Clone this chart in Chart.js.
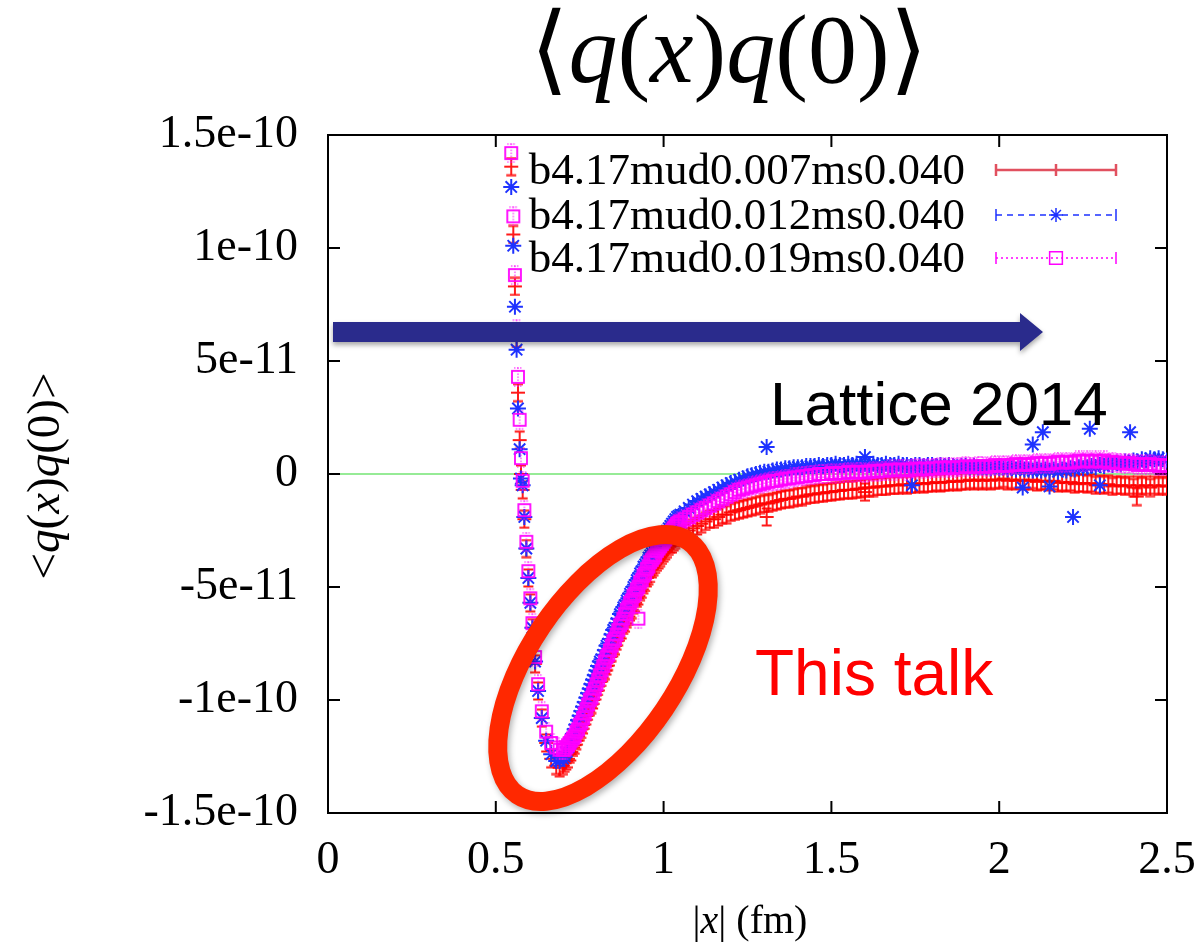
<!DOCTYPE html>
<html>
<head>
<meta charset="utf-8">
<script src="https://cdn.jsdelivr.net/npm/chart.js@4.4.1/dist/chart.umd.min.js"></script>
<style>
  body { margin: 0; background: #fff; }
  #wrap { width: 1203px; height: 948px; }
</style>
</head>
<body>
<div id="wrap"><canvas id="chart" width="1203" height="948"></canvas></div>
<script>
// |x| in fm; correlator values in units of 1e-10
const dist = [
  // steep short-distance part
  0.546, 0.552, 0.557, 0.562, 0.566, 0.571, 0.575, 0.580, 0.585, 0.591,
  0.597, 0.603, 0.609, 0.617, 0.626, 0.637, 0.650, 0.665, 0.680, 0.690,
  // dip and rise
  0.700, 0.705, 0.710, 0.715, 0.720, 0.725, 0.730, 0.735, 0.740, 0.745,
  0.750, 0.755, 0.760, 0.765, 0.770, 0.775, 0.780, 0.785, 0.790, 0.795,
  0.800, 0.805, 0.810, 0.815, 0.820, 0.825, 0.830, 0.835, 0.840, 0.845,
  0.850, 0.855, 0.860, 0.865, 0.870, 0.875, 0.880, 0.885, 0.890, 0.895,
  0.900, 0.905, 0.910, 0.915, 0.920, 0.925, 0.930, 0.935, 0.940, 0.945,
  0.950, 0.955, 0.960, 0.965, 0.970, 0.975, 0.980, 0.985, 0.990, 0.995,
  1.000, 1.005, 1.010, 1.015, 1.020, 1.025, 1.030, 1.035, 1.040, 1.045,
  1.050,
  // long-distance tail
  1.0625, 1.075, 1.0875, 1.1, 1.1125, 1.125, 1.1375, 1.15,
  1.1625, 1.175, 1.1875, 1.2, 1.2125, 1.225, 1.2375, 1.25,
  1.2625, 1.275, 1.2875, 1.3, 1.3125, 1.325, 1.3375, 1.35,
  1.3625, 1.375, 1.3875, 1.4, 1.4125, 1.425, 1.4375, 1.45,
  1.4625, 1.475, 1.4875, 1.5, 1.5125, 1.525, 1.5375, 1.55,
  1.5625, 1.575, 1.5875, 1.6, 1.6125, 1.625, 1.6375, 1.65,
  1.6625, 1.675, 1.6875, 1.7, 1.7125, 1.725, 1.7375, 1.75,
  1.7625, 1.775, 1.7875, 1.8, 1.8125, 1.825, 1.8375, 1.85,
  1.8625, 1.875, 1.8875, 1.9, 1.9125, 1.925, 1.9375, 1.95,
  1.9625, 1.975, 1.9875, 2.0, 2.0125, 2.025, 2.0375, 2.05,
  2.0625, 2.075, 2.0875, 2.1, 2.1125, 2.125, 2.1375, 2.15,
  2.1625, 2.175, 2.1875, 2.2, 2.2125, 2.225, 2.2375, 2.25,
  2.2625, 2.275, 2.2875, 2.3, 2.3125, 2.325, 2.3375, 2.35,
  2.3625, 2.375, 2.3875, 2.4, 2.4125, 2.425, 2.4375, 2.45,
  2.4625, 2.475, 2.4875, 2.5,
  // scattered points
  0.925, 1.307, 1.60, 1.74, 2.07, 2.10, 2.13, 2.15, 2.22, 2.27, 2.30, 2.39, 2.41
];

const red = [
  1.36, 1.06, 0.83, 0.60, 0.36, 0.15, 0.00, -0.07, -0.20, -0.33,
  -0.46, -0.57, -0.68, -0.84, -0.96, -1.08, -1.19, -1.26, -1.29, -1.30,

  -1.29, -1.28, -1.27, -1.26, -1.24, -1.23, -1.21, -1.20, -1.18, -1.16,
  -1.14, -1.13, -1.11, -1.09, -1.07, -1.05, -1.03, -1.02, -1.00, -0.98,
  -0.96, -0.94, -0.92, -0.90, -0.88, -0.87, -0.85, -0.83, -0.81, -0.79,
  -0.77, -0.76, -0.74, -0.72, -0.70, -0.69, -0.67, -0.66, -0.64, -0.63,
  -0.61, -0.60, -0.58, -0.57, -0.55, -0.54, -0.52, -0.51, -0.49, -0.48,
  -0.46, -0.45, -0.44, -0.42, -0.41, -0.40, -0.39, -0.38, -0.37, -0.36,
  -0.35, -0.34, -0.33, -0.32, -0.31, -0.31, -0.30, -0.29, -0.28, -0.28,
  -0.27,

  -0.26, -0.25, -0.24, -0.23, -0.22, -0.21, -0.20, -0.20,
  -0.19, -0.18, -0.18, -0.17, -0.165, -0.16, -0.155, -0.15,
  -0.145, -0.14, -0.135, -0.13, -0.13, -0.125, -0.12, -0.115,
  -0.11, -0.11, -0.105, -0.10, -0.10, -0.095, -0.09, -0.09,
  -0.085, -0.085, -0.08, -0.08, -0.075, -0.075, -0.07, -0.07,
  -0.07, -0.065, -0.065, -0.06, -0.06, -0.06, -0.055, -0.055,
  -0.055, -0.05, -0.05, -0.05, -0.045, -0.05, -0.045, -0.045,
  -0.04, -0.045, -0.04, -0.04, -0.035, -0.04, -0.035, -0.035,
  -0.03, -0.035, -0.03, -0.03, -0.025, -0.03, -0.025, -0.03,
  -0.025, -0.03, -0.025, -0.025, -0.02, -0.03, -0.025, -0.03,
  -0.025, -0.03, -0.03, -0.025, -0.035, -0.03, -0.03, -0.035,
  -0.03, -0.04, -0.035, -0.04, -0.035, -0.045, -0.04, -0.04,
  -0.045, -0.04, -0.05, -0.045, -0.05, -0.045, -0.055, -0.05,
  -0.05, -0.055, -0.05, -0.06, -0.05, -0.055, -0.05, -0.06,
  -0.05, -0.055, -0.05, -0.055,

  null, -0.19, -0.08, null, null, null, null, null, null, null, null, null, -0.10
];

const blue = [
  1.27, 1.01, 0.74, 0.55, 0.29, 0.11, -0.02, -0.05, -0.19, -0.33,
  -0.46, -0.57, -0.68, -0.83, -0.96, -1.08, -1.18, -1.24, -1.27, -1.27,

  -1.26, -1.25, -1.23, -1.21, -1.19, -1.17, -1.15, -1.13, -1.11, -1.09,
  -1.07, -1.05, -1.03, -1.01, -0.99, -0.97, -0.95, -0.93, -0.91, -0.89,
  -0.87, -0.85, -0.83, -0.82, -0.80, -0.78, -0.76, -0.75, -0.73, -0.71,
  -0.69, -0.68, -0.66, -0.64, -0.62, -0.61, -0.59, -0.58, -0.56, -0.55,
  -0.53, -0.52, -0.50, -0.49, -0.47, -0.46, -0.44, -0.43, -0.41, -0.40,
  -0.39, -0.37, -0.36, -0.35, -0.34, -0.32, -0.31, -0.30, -0.29, -0.28,
  -0.27, -0.26, -0.25, -0.24, -0.23, -0.22, -0.21, -0.20, -0.19, -0.185,
  -0.18,

  -0.165, -0.15, -0.135, -0.12, -0.11, -0.10, -0.09, -0.08,
  -0.07, -0.06, -0.05, -0.04, -0.035, -0.025, -0.02, -0.01,
  -0.005, 0.0, 0.005, 0.01, 0.01, 0.015, 0.02, 0.02,
  0.025, 0.025, 0.03, 0.03, 0.03, 0.035, 0.035, 0.035,
  0.04, 0.035, 0.04, 0.04, 0.045, 0.04, 0.04, 0.045,
  0.04, 0.045, 0.04, 0.045, 0.04, 0.045, 0.04, 0.04,
  0.045, 0.04, 0.04, 0.045, 0.04, 0.04, 0.035, 0.04,
  0.04, 0.035, 0.04, 0.04, 0.035, 0.04, 0.035, 0.04,
  0.035, 0.03, 0.035, 0.035, 0.03, 0.035, 0.03, 0.03,
  0.03, 0.025, 0.03, 0.025, 0.03, 0.02, 0.025, 0.02,
  0.025, 0.02, 0.02, 0.015, 0.02, 0.015, 0.02, 0.015,
  0.02, 0.01, 0.02, 0.015, 0.025, 0.02, 0.03, 0.025,
  0.03, 0.035, 0.03, 0.04, 0.035, 0.045, 0.04, 0.05,
  0.045, 0.055, 0.05, 0.06, 0.055, 0.065, 0.06, 0.07,
  0.065, 0.07, 0.065, 0.06,

  null, 0.12, 0.075, -0.05, -0.06, 0.13, 0.185, -0.055, -0.19, 0.20, -0.05, 0.185, null
];

const mag = [
  1.42, 1.14, 0.88, 0.64, 0.43, 0.24, 0.07, -0.03, -0.16, -0.30,
  -0.43, -0.55, -0.66, -0.81, -0.93, -1.05, -1.14, -1.19, -1.21, -1.22,

  -1.22, -1.22, -1.21, -1.20, -1.19, -1.18, -1.17, -1.16, -1.14, -1.13,
  -1.11, -1.10, -1.08, -1.06, -1.04, -1.02, -1.00, -0.99, -0.97, -0.95,
  -0.93, -0.91, -0.89, -0.87, -0.85, -0.83, -0.81, -0.80, -0.78, -0.76,
  -0.74, -0.73, -0.71, -0.69, -0.67, -0.66, -0.64, -0.62, -0.60, -0.59,
  -0.57, -0.56, -0.54, -0.53, -0.51, -0.50, -0.48, -0.47, -0.45, -0.44,
  -0.42, -0.41, -0.39, -0.38, -0.37, -0.36, -0.34, -0.33, -0.32, -0.31,
  -0.30, -0.29, -0.28, -0.27, -0.26, -0.25, -0.24, -0.23, -0.22, -0.215,
  -0.21,

  -0.20, -0.19, -0.18, -0.17, -0.16, -0.15, -0.14, -0.13,
  -0.12, -0.11, -0.10, -0.09, -0.08, -0.07, -0.065, -0.06,
  -0.055, -0.05, -0.045, -0.04, -0.035, -0.03, -0.03, -0.025,
  -0.02, -0.02, -0.015, -0.015, -0.01, -0.01, -0.005, -0.005,
  0.0, 0.0, 0.0, 0.005, 0.0, 0.005, 0.005, 0.01,
  0.005, 0.01, 0.01, 0.005, 0.01, 0.015, 0.01, 0.015,
  0.015, 0.02, 0.015, 0.02, 0.02, 0.015, 0.02, 0.025,
  0.02, 0.025, 0.02, 0.025, 0.025, 0.03, 0.025, 0.03,
  0.025, 0.03, 0.03, 0.035, 0.03, 0.03, 0.035, 0.035,
  0.03, 0.035, 0.04, 0.035, 0.04, 0.035, 0.04, 0.045,
  0.04, 0.045, 0.04, 0.045, 0.05, 0.045, 0.05, 0.045,
  0.05, 0.055, 0.05, 0.055, 0.05, 0.055, 0.06, 0.055,
  0.06, 0.055, 0.06, 0.055, 0.06, 0.05, 0.055, 0.05,
  0.05, 0.045, 0.05, 0.045, 0.04, 0.045, 0.04, 0.045,
  0.04, 0.035, 0.04, 0.035,

  -0.64, null, null, null, null, null, null, null, null, null, null, null, null
];

const seriesNames = ['b4.17mud0.007ms0.040', 'b4.17mud0.012ms0.040', 'b4.17mud0.019ms0.040'];
const xTickLabels = ['0', '0.5', '1', '1.5', '2', '2.5'];
const yTickLabels = ['-1.5e-10', '-1e-10', '-5e-11', '0', '5e-11', '1e-10', '1.5e-10'];

const SERIF = "'Liberation Serif', 'Times New Roman', 'DejaVu Serif', serif";
const SANS = "'Liberation Sans', Arial, sans-serif";
const RED = 'rgb(255,0,0)';
const BLUE = 'rgb(30,50,255)';
const MAG = 'rgb(255,0,255)';

function toPoints(ys) {
  return dist.map((x, i) => ({ x: x, y: ys[i] })).filter(p => p.y !== null);
}

// gnuplot-like markers with small error bars
function redMarker() {
  const c = document.createElement('canvas');
  c.width = 16; c.height = 20;
  const g = c.getContext('2d');
  g.strokeStyle = 'rgba(255,0,0,0.9)';
  g.lineWidth = 2;
  g.beginPath();
  g.moveTo(8, 1); g.lineTo(8, 19);
  g.moveTo(3, 1.5); g.lineTo(13, 1.5);
  g.moveTo(3, 18.5); g.lineTo(13, 18.5);
  g.moveTo(1, 10); g.lineTo(15, 10);
  g.stroke();
  return c;
}

function magMarker() {
  const c = document.createElement('canvas');
  c.width = 16; c.height = 20;
  const g = c.getContext('2d');
  g.strokeStyle = MAG;
  g.lineWidth = 1.8;
  g.strokeRect(2, 4, 12, 12);
  g.lineWidth = 1;
  g.setLineDash([1.5, 1.5]);
  g.beginPath();
  g.moveTo(8, 0.5); g.lineTo(8, 19.5);
  g.moveTo(4, 1); g.lineTo(12, 1);
  g.moveTo(4, 19); g.lineTo(12, 19);
  g.stroke();
  return c;
}

function drawRich(ctx, parts, cx, cy, size) {
  let total = 0;
  const ws = parts.map(p => {
    ctx.font = (p[1] ? 'italic ' : '') + size + 'px ' + SERIF;
    const w = ctx.measureText(p[0]).width;
    total += w;
    return w;
  });
  let x = cx - total / 2;
  ctx.textAlign = 'left';
  ctx.textBaseline = 'middle';
  parts.forEach((p, i) => {
    ctx.font = (p[1] ? 'italic ' : '') + size + 'px ' + SERIF;
    ctx.fillText(p[0], x, cy);
    x += ws[i];
  });
}

const decor = {
  id: 'decor',
  beforeDatasetsDraw(chart) {
    const { ctx, chartArea: a, scales: { x, y } } = chart;
    ctx.save();
    // zero line
    const y0 = y.getPixelForValue(0);
    ctx.strokeStyle = 'rgb(150,235,150)';
    ctx.lineWidth = 2;
    ctx.beginPath();
    ctx.moveTo(a.left, y0); ctx.lineTo(a.right, y0);
    ctx.stroke();
    // frame and inward ticks
    ctx.strokeStyle = '#000';
    ctx.lineWidth = 2;
    ctx.strokeRect(a.left, a.top, a.right - a.left, a.bottom - a.top);
    ctx.beginPath();
    x.ticks.forEach((t, i) => {
      const px = x.getPixelForTick(i);
      ctx.moveTo(px, a.bottom); ctx.lineTo(px, a.bottom - 12);
      ctx.moveTo(px, a.top); ctx.lineTo(px, a.top + 12);
    });
    y.ticks.forEach((t, i) => {
      const py = y.getPixelForTick(i);
      ctx.moveTo(a.left, py); ctx.lineTo(a.left + 12, py);
      ctx.moveTo(a.right, py); ctx.lineTo(a.right - 12, py);
    });
    ctx.stroke();
    ctx.restore();
  },
  afterDraw(chart) {
    const ctx = chart.ctx;
    ctx.save();
    ctx.fillStyle = '#000';
    // title
    drawRich(ctx, [['\u27E8', false], ['q', true], ['(', false], ['x', true], [')', false],
      ['q', true], ['(0)', false], ['\u27E9', false]], 729, 56, 98);
    // axis titles
    drawRich(ctx, [['|', false], ['x', true], ['| (fm)', false]], 750, 922, 40);
    ctx.save();
    ctx.translate(47, 476);
    ctx.rotate(-Math.PI / 2);
    drawRich(ctx, [['<', false], ['q', true], ['(', false], ['x', true], [')', false],
      ['q', true], ['(0)>', false]], 0, 0, 47);
    ctx.restore();

    // legend
    const rows = [170, 215, 258];
    const styles = [
      { color: 'rgb(225,80,95)', dash: [], mark: 'err' },
      { color: BLUE, dash: [6, 5], mark: 'star' },
      { color: MAG, dash: [2, 3], mark: 'rect' }
    ];
    rows.forEach((ry, i) => {
      const s = styles[i];
      ctx.font = '45px ' + SERIF;
      ctx.textAlign = 'right';
      ctx.textBaseline = 'middle';
      ctx.fillStyle = '#000';
      ctx.fillText(seriesNames[i], 965, ry + 2);
      ctx.strokeStyle = s.color;
      ctx.lineWidth = i === 0 ? 2.5 : 1.5;
      ctx.setLineDash(s.dash);
      ctx.beginPath();
      ctx.moveTo(996, ry); ctx.lineTo(1116, ry);
      ctx.stroke();
      ctx.setLineDash([]);
      ctx.beginPath();
      ctx.moveTo(996, ry - 6); ctx.lineTo(996, ry + 6);
      ctx.moveTo(1116, ry - 6); ctx.lineTo(1116, ry + 6);
      ctx.stroke();
      if (s.mark === 'err') {
        ctx.beginPath();
        ctx.moveTo(1056, ry - 6); ctx.lineTo(1056, ry + 6);
        ctx.stroke();
      } else {
        ctx.fillStyle = 'rgba(0,0,0,0)';
        Chart.helpers.drawPoint(ctx, { pointStyle: s.mark, radius: s.mark === 'rect' ? 9 : 7, rotation: 0, borderWidth: 1.5 }, 1056, ry);
      }
    });

    // blue arrow
    ctx.save();
    ctx.shadowColor = 'rgba(0,0,0,0.35)';
    ctx.shadowBlur = 5;
    ctx.shadowOffsetY = 3;
    ctx.fillStyle = 'rgb(42,43,140)';
    ctx.beginPath();
    ctx.moveTo(333, 322);
    ctx.lineTo(1020, 322);
    ctx.lineTo(1020, 313);
    ctx.lineTo(1043, 332);
    ctx.lineTo(1020, 351);
    ctx.lineTo(1020, 342);
    ctx.lineTo(333, 342);
    ctx.closePath();
    ctx.fill();
    ctx.restore();

    // red ellipse
    ctx.save();
    ctx.shadowColor = 'rgba(0,0,0,0.3)';
    ctx.shadowBlur = 6;
    ctx.shadowOffsetX = 2;
    ctx.shadowOffsetY = 3;
    ctx.strokeStyle = 'rgb(255,40,0)';
    ctx.lineWidth = 19;
    ctx.beginPath();
    ctx.ellipse(603, 668, 153, 74, -56 * Math.PI / 180, 0, Math.PI * 2);
    ctx.stroke();
    ctx.restore();

    // annotations
    ctx.textAlign = 'left';
    ctx.textBaseline = 'alphabetic';
    ctx.font = '62px ' + SANS;
    ctx.fillStyle = '#000';
    ctx.fillText('Lattice 2014', 770, 425);
    ctx.font = '64px ' + SANS;
    ctx.fillStyle = 'rgb(255,0,0)';
    ctx.fillText('This talk', 755, 695);
    ctx.restore();
  }
};

new Chart(document.getElementById('chart'), {
  type: 'scatter',
  data: {
    datasets: [
      {
        label: seriesNames[0],
        data: toPoints(red),
        order: 3,
        pointStyle: redMarker(),
        radius: 6,
        borderColor: RED
      },
      {
        label: seriesNames[1],
        data: toPoints(blue),
        order: 2,
        pointStyle: 'star',
        radius: 8,
        borderWidth: 2,
        borderColor: BLUE
      },
      {
        label: seriesNames[2],
        data: toPoints(mag),
        order: 1,
        pointStyle: magMarker(),
        radius: 8,
        borderColor: MAG
      }
    ]
  },
  options: {
    responsive: false,
    animation: false,
    layout: { padding: { left: 0, right: 0, top: 135, bottom: 0 } },
    plugins: {
      legend: { display: false },
      tooltip: { enabled: false }
    },
    scales: {
      x: {
        type: 'linear',
        min: 0,
        max: 2.5,
        grid: { display: false },
        border: { display: false },
        ticks: {
          stepSize: 0.5,
          padding: 12,
          color: '#000',
          font: { family: SERIF, size: 46 },
          callback: v => xTickLabels[Math.round(v / 0.5)]
        },
        afterFit(scale) {
          scale.height = 135;
          scale.paddingLeft = 0;
          scale.paddingRight = 36;
        }
      },
      y: {
        min: -1.5,
        max: 1.5,
        grid: { display: false },
        border: { display: false },
        ticks: {
          stepSize: 0.5,
          padding: 22,
          color: '#000',
          font: { family: SERIF, size: 46 },
          callback: v => yTickLabels[Math.round((v + 1.5) / 0.5)]
        },
        afterFit(scale) {
          scale.width = 328;
          scale.paddingTop = 0;
          scale.paddingBottom = 0;
        }
      }
    }
  },
  plugins: [decor]
});
</script>
</body>
</html>
